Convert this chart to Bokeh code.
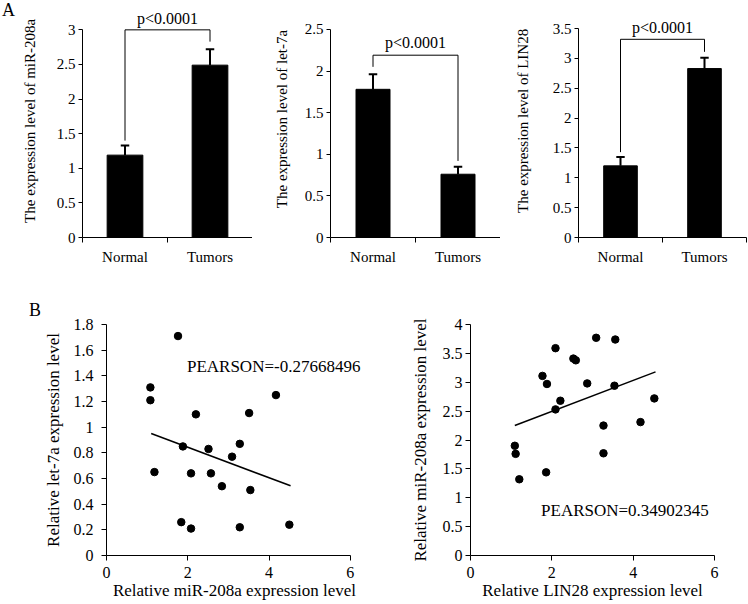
from bokeh.plotting import figure
from bokeh.layouts import column, row
from bokeh.models import Range1d, FixedTicker, NumeralTickFormatter, Div
from bokeh.core.properties import value
from bokeh.embed import file_html
from bokeh.resources import INLINE

FONT = "Liberation Serif"

# ---------------- data ----------------
categories = ["Normal", "Tumors"]

mir208a_means = [1.19, 2.49]
mir208a_errs = [0.14, 0.23]
let7a_means = [1.78, 0.76]
let7a_errs = [0.18, 0.09]
lin28_means = [1.20, 2.83]
lin28_errs = [0.15, 0.18]

p_label = "p<0.0001"
# significance brackets: [left foot, bar height, right foot]
bracket_mir208a = [1.40, 3.00, 2.83]
bracket_let7a = [2.05, 2.19, 0.92]
bracket_lin28 = [1.43, 3.32, 3.11]
p_text_y = [3.17, 2.34, 3.51]

ticks_mir208a = [0, 0.5, 1, 1.5, 2, 2.5, 3]
ticks_let7a = [0, 0.5, 1, 1.5, 2, 2.5]
ticks_lin28 = [0, 0.5, 1, 1.5, 2, 2.5, 3, 3.5]

# scatter: miR-208a (x) vs let-7a (y)
sc1_x = [1.76, 1.08, 1.08, 1.18, 1.88, 1.84, 2.08, 2.08, 2.20, 2.51,
         2.57, 2.84, 3.09, 3.28, 3.28, 3.51, 3.54, 4.17, 4.50]
sc1_y = [1.71, 1.31, 1.21, 0.65, 0.85, 0.26, 0.21, 0.64, 1.10, 0.83,
         0.64, 0.54, 0.77, 0.87, 0.22, 1.11, 0.51, 1.25, 0.24]
trend1_x = [1.10, 4.53]
trend1_y = [0.951, 0.543]
pearson1 = "PEARSON=-0.27668496"
sc1_xticks = [0, 2, 4, 6]
sc1_yticks = [0, 0.2, 0.4, 0.6, 0.8, 1, 1.2, 1.4, 1.6, 1.8]

# scatter: LIN28 (x) vs miR-208a (y)
sc2_x = [1.09, 1.11, 1.20, 1.77, 1.88, 1.86, 2.09, 2.09, 2.21, 2.53,
         2.59, 2.87, 3.09, 3.27, 3.27, 3.56, 3.54, 4.18, 4.52]
sc2_y = [1.90, 1.76, 1.32, 3.11, 2.97, 1.44, 3.59, 2.53, 2.68, 3.41,
         3.38, 2.98, 3.77, 2.25, 1.77, 3.74, 2.94, 2.31, 2.72]
trend2_x = [1.09, 4.55]
trend2_y = [2.25, 3.18]
pearson2 = "PEARSON=0.34902345"
sc2_xticks = [0, 2, 4, 6]
sc2_yticks = [0, 0.5, 1, 1.5, 2, 2.5, 3, 3.5, 4]

panel_letters = ["A", "B"]


def style_common(p):
    p.outline_line_color = None
    p.xgrid.visible = False
    p.ygrid.visible = False
    p.background_fill_color = "white"
    p.border_fill_color = "white"
    for ax in (p.xaxis[0], p.yaxis[0]):
        ax.axis_line_color = "black"
        ax.axis_line_width = 1
        ax.major_tick_line_color = "black"
        ax.minor_tick_line_color = "black"
        ax.major_label_text_color = "black"
        ax.major_label_text_font = FONT
        ax.axis_label_text_font = FONT
        ax.axis_label_text_font_style = "normal"
        ax.axis_label_text_color = "black"
        ax.major_tick_in = 0
        ax.minor_tick_in = 0


def bar_panel(width, height, left, right, bottom, y_end, y_ticks, means, errs,
              bracket, p_y, ylabel, title_standoff, bar_w):
    p = figure(width=width, height=height, output_backend="svg",
               toolbar_location=None,
               x_range=Range1d(0, len(categories)), y_range=Range1d(0, y_end),
               min_border_left=left, min_border_right=right,
               min_border_top=0, min_border_bottom=bottom)
    style_common(p)
    xs = [i + 0.5 for i in range(len(categories))]
    tops = [m + e for m, e in zip(means, errs)]
    p.vbar(x=xs, top=means, width=bar_w, fill_color="black", line_color="black")
    p.segment(x0=xs, y0=means, x1=xs, y1=tops, line_color="black", line_width=2)
    p.segment(x0=[x - 0.05 for x in xs], y0=tops, x1=[x + 0.05 for x in xs],
              y1=tops, line_color="black", line_width=2)
    p.line(x=[xs[0], xs[0], xs[1], xs[1]],
           y=[bracket[0], bracket[1], bracket[1], bracket[2]],
           line_color="black", line_width=1)
    p.text(x=[len(categories) / 2], y=[p_y], text=[p_label],
           text_align="center", text_baseline="middle",
           text_font=value(FONT), text_font_size="16px", text_color="black")

    xa = p.xaxis[0]
    xa.ticker = FixedTicker(ticks=xs, minor_ticks=list(range(len(categories) + 1)))
    xa.major_label_overrides = {x: c for x, c in zip(xs, categories)}
    xa.major_tick_out = 0
    xa.minor_tick_out = 5
    xa.major_label_standoff = 6
    xa.major_label_text_font_size = "15px"

    ya = p.yaxis[0]
    ya.ticker = FixedTicker(ticks=y_ticks)
    ya.formatter = NumeralTickFormatter(format="0.[0]")
    ya.bounds = (y_ticks[0], y_ticks[-1])
    ya.major_tick_out = 4
    ya.minor_tick_out = 0
    ya.major_label_standoff = 3
    ya.major_label_text_font_size = "15px"
    ya.axis_label = ylabel
    ya.axis_label_text_font_size = "15px"
    ya.axis_label_standoff = title_standoff
    return p


def scatter_panel(width, height, left, right, top, bottom, x_end, y_end,
                  x_ticks, y_ticks, xs, ys, tx, ty, ptext, px, py,
                  xlabel, ylabel, tick_standoff, title_standoff):
    p = figure(width=width, height=height, output_backend="svg",
               toolbar_location=None,
               x_range=Range1d(0, x_end), y_range=Range1d(0, y_end),
               min_border_left=left, min_border_right=right,
               min_border_top=top, min_border_bottom=bottom)
    style_common(p)
    p.scatter(x=xs, y=ys, size=7.5, fill_color="black", line_color="black")
    p.line(x=tx, y=ty, line_color="black", line_width=1.5)
    p.text(x=[px], y=[py], text=[ptext], text_align="left",
           text_baseline="middle", text_font=value(FONT),
           text_font_size="17px", text_color="black")

    xa = p.xaxis[0]
    xa.ticker = FixedTicker(ticks=x_ticks)
    xa.formatter = NumeralTickFormatter(format="0.[0]")
    xa.bounds = (x_ticks[0], x_ticks[-1])
    xa.major_tick_out = 5
    xa.minor_tick_out = 0
    xa.major_label_standoff = 6
    xa.major_label_text_font_size = "16px"
    xa.axis_label = xlabel
    xa.axis_label_text_font_size = "17px"
    xa.axis_label_standoff = 0

    ya = p.yaxis[0]
    ya.ticker = FixedTicker(ticks=y_ticks)
    ya.formatter = NumeralTickFormatter(format="0.[0]")
    ya.bounds = (y_ticks[0], y_ticks[-1])
    ya.major_tick_out = 5
    ya.minor_tick_out = 0
    ya.major_label_standoff = tick_standoff
    ya.major_label_text_font_size = "16px"
    ya.axis_label = ylabel
    ya.axis_label_text_font_size = "17px"
    ya.axis_label_standoff = title_standoff
    return p


def letter_div(letter, width, height, pad_left, pad_top):
    return Div(text=letter, width=width, height=height, margin=0,
               styles={"font-family": FONT, "font-size": "18px",
                       "color": "black", "line-height": "20px",
                       "padding-left": f"{pad_left}px",
                       "padding-top": f"{pad_top}px",
                       "box-sizing": "border-box"})


divA = letter_div(panel_letters[0], 16, 268, 2, 0)
p1 = bar_panel(236, 268, 66, 0, 29, 3.424, ticks_mir208a, mir208a_means,
               mir208a_errs, bracket_mir208a, p_text_y[0],
               "The expression level of  miR-208a", 16, 0.42)
p2 = bar_panel(248, 268, 78, 0, 30, 2.847, ticks_let7a, let7a_means,
               let7a_errs, bracket_let7a, p_text_y[1],
               "The expression level of let-7a", 12, 0.40)
p3 = bar_panel(248, 268, 78, 2, 31, 3.97, ticks_lin28, lin28_means,
               lin28_errs, bracket_lin28, p_text_y[2],
               "The expression level of  LIN28", 19, 0.40)

divB = letter_div(panel_letters[1], 40, 336, 29, 32)
p4 = scatter_panel(334, 336, 65, 12, 56, 49, 6.3, 1.8, sc1_xticks, sc1_yticks,
                   sc1_x, sc1_y, trend1_x, trend1_y, pearson1, 1.98, 1.475,
                   "Relative miR-208a expression level",
                   "Relative let-7a expression level", 8, 8)
p5 = scatter_panel(374, 336, 96, 34, 53, 49, 6.0, 4.0, sc2_xticks, sc2_yticks,
                   sc2_x, sc2_y, trend2_x, trend2_y, pearson2, 1.735, 0.773,
                   "Relative LIN28 expression level",
                   "Relative miR-208a expression level", 3, 10)

layout = column(row(divA, p1, p2, p3), row(divB, p4, p5))

with open("out.html", "w") as f:
    f.write(file_html(layout, INLINE))
